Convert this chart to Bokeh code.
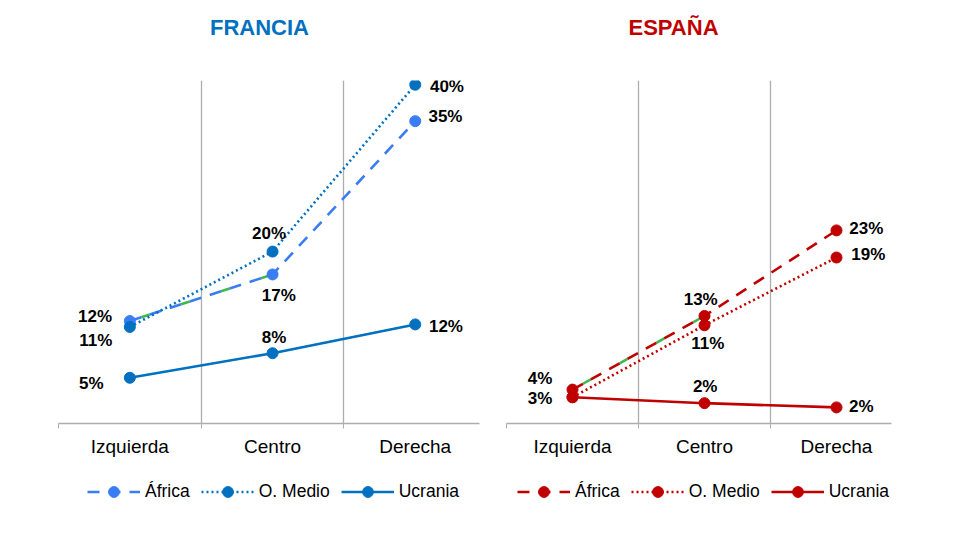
from bokeh.plotting import figure
from bokeh.models import Range1d, FixedTicker, Legend, LegendItem, ColumnDataSource
from bokeh.layouts import row, column
from bokeh.embed import file_html
from bokeh.resources import INLINE
from bokeh.core.properties import value

# ---------------- data ----------------
CATEGORIES = ["Izquierda", "Centro", "Derecha"]
SERIES = ["África", "O. Medio", "Ucrania"]
TITLES = ["FRANCIA", "ESPAÑA"]

FR_AFRICA = [12.1, 17.6, 35.7]
FR_OMEDIO = [11.4, 20.3, 40.0]
FR_UCRANIA = [5.4, 8.3, 11.7]
FR_AFRICA_LABELS = ["12%", "17%", "35%"]
FR_OMEDIO_LABELS = ["11%", "20%", "40%"]
FR_UCRANIA_LABELS = ["5%", "8%", "12%"]

ES_AFRICA = [4.0, 12.7, 22.8]
ES_OMEDIO = [3.1, 11.6, 19.6]
ES_UCRANIA = [3.1, 2.4, 1.9]
ES_AFRICA_LABELS = ["4%", "13%", "23%"]
ES_OMEDIO_LABELS = ["3%", "11%", "19%"]
ES_UCRANIA_LABELS = ["", "2%", "2%"]

# ---------------- styles ----------------
FONT = "Liberation Sans"
GRID = "#ADADAD"
FR_COLORS = ["#3A7CF4", "#0070C0", "#0070C0"]
ES_COLORS = ["#C00000", "#C00000", "#C00000"]
TITLE_COLORS = ["#0070C0", "#C00000"]
DASHES = ["12 9", "2 3", "solid"]

# label offsets (px) relative to each point: dx, dy
FR_DX = [[-34.8, 6.3, 30.2], [-34, -3.5, 31.7], [-38.5, 1.5, 30.7]]
FR_DY = [[-4.7, 21, -4.7], [13.3, -17.7, 2.2], [5.7, -15.7, 2]]
ES_DX = [[-32.5, -3.8, 29.8], [-32.5, 3.4, 31.8], [0, 0.7, 24.8]]
ES_DY = [[-11.5, -16.2, -2.2], [1.6, 18.3, -3], [0, -16.5, -1.2]]

XS = [0.5, 1.5, 2.5]
TOTAL_W = 941
TOP_H = 52
LEG_H = 56


def bare(width, height):
    f = figure(output_backend="svg", toolbar_location=None, width=width, height=height,
               x_range=Range1d(0, width), y_range=Range1d(height, 0),
               min_border=0, outline_line_color=None)
    f.axis.visible = False
    f.grid.visible = False
    return f


def make_panel(series_values, series_labels, colors, dx, dy, frame_w, x_end,
               border_left, border_right):
    p = figure(output_backend="svg", toolbar_location=None,
               frame_width=frame_w, frame_height=343,
               x_range=Range1d(0, x_end), y_range=Range1d(0, 40.5),
               min_border_left=border_left, min_border_right=border_right,
               min_border_top=80 - TOP_H, min_border_bottom=40,
               outline_line_color=None, background_fill_color="white",
               border_fill_color="white")
    p.yaxis.visible = False
    p.ygrid.visible = False

    ax = p.xaxis[0]
    ax.ticker = FixedTicker(ticks=XS, minor_ticks=[0, 1, 2])
    ax.major_label_overrides = {XS[k]: CATEGORIES[k] for k in range(3)}
    ax.major_tick_line_color = None
    ax.major_tick_out = 0
    ax.major_tick_in = 0
    ax.minor_tick_out = 5
    ax.minor_tick_in = 0
    ax.minor_tick_line_color = GRID
    ax.axis_line_color = GRID
    ax.axis_line_width = 1.3
    ax.major_label_text_font = FONT
    ax.major_label_text_font_size = "19px"
    ax.major_label_text_color = "#000000"
    ax.major_label_standoff = 7

    g = p.xgrid[0]
    g.ticker = FixedTicker(ticks=[0, 1, 2])
    g.grid_line_color = GRID
    g.grid_line_width = 1.3

    # green artefact under first segment of África (shows in some dash gaps)
    p.line(XS[:2], series_values[0][:2], line_color="#3DB84A", line_width=2.5,
           line_dash="9 33", line_dash_offset=30)
    for i in range(len(SERIES)):
        vals = series_values[i]
        p.line(XS, vals, line_color=colors[i], line_width=2.6, line_dash=DASHES[i])
        p.scatter(XS, vals, size=11, fill_color=colors[i], line_color=colors[i],
                  marker="circle")
    for i in range(len(SERIES)):
        src = ColumnDataSource(dict(x=XS, y=series_values[i], t=series_labels[i],
                                    dx=dx[i], dy=dy[i]))
        p.text(x="x", y="y", text="t", x_offset="dx", y_offset="dy", source=src,
               text_font=value(FONT), text_font_size="17px", text_font_style="bold",
               text_color="#000000", text_align="center", text_baseline="middle")
    return p


p1 = make_panel([FR_AFRICA, FR_OMEDIO, FR_UCRANIA],
                [FR_AFRICA_LABELS, FR_OMEDIO_LABELS, FR_UCRANIA_LABELS],
                FR_COLORS, FR_DX, FR_DY, 421, 421 / 142.7, 58, 18)
p2 = make_panel([ES_AFRICA, ES_OMEDIO, ES_UCRANIA],
                [ES_AFRICA_LABELS, ES_OMEDIO_LABELS, ES_UCRANIA_LABELS],
                ES_COLORS, ES_DX, ES_DY, 385, 385 / 132.0, 9, 50)

# ---- titles ----
top = bare(TOTAL_W, TOP_H)
top.text(x=[259, 673], y=[27, 27], text=TITLES, text_color=TITLE_COLORS,
         text_font=value(FONT), text_font_size="22px", text_font_style="bold",
         text_align="center", text_baseline="middle")

# ---- legends (swatch renderers use the series data on an off-screen range) ----
leg = bare(TOTAL_W, LEG_H)
leg.extra_x_ranges = {"off": Range1d(1000, 1001)}
for values, colors, lx in [([FR_AFRICA, FR_OMEDIO, FR_UCRANIA], FR_COLORS, 87),
                           ([ES_AFRICA, ES_OMEDIO, ES_UCRANIA], ES_COLORS, 517)]:
    items = []
    for i, name in enumerate(SERIES):
        lr = leg.line(x=XS, y=values[i], x_range_name="off", line_color=colors[i],
                      line_width=2.6, line_dash=DASHES[i])
        sr = leg.scatter(x=XS, y=values[i], x_range_name="off", size=11,
                         fill_color=colors[i], line_color=colors[i], marker="circle")
        items.append(LegendItem(label=name, renderers=[lr, sr]))
    lg = Legend(items=items, orientation="horizontal", location=(lx, 14),
                glyph_width=53, glyph_height=27, label_standoff=5, spacing=11,
                label_text_font=FONT, label_text_font_size="17.5px",
                label_text_color="#000000", border_line_color=None,
                background_fill_alpha=0, padding=0, margin=0)
    leg.add_layout(lg)

layout = column(top, row(p1, p2), leg)
open("out.html", "w").write(file_html(layout, INLINE))
